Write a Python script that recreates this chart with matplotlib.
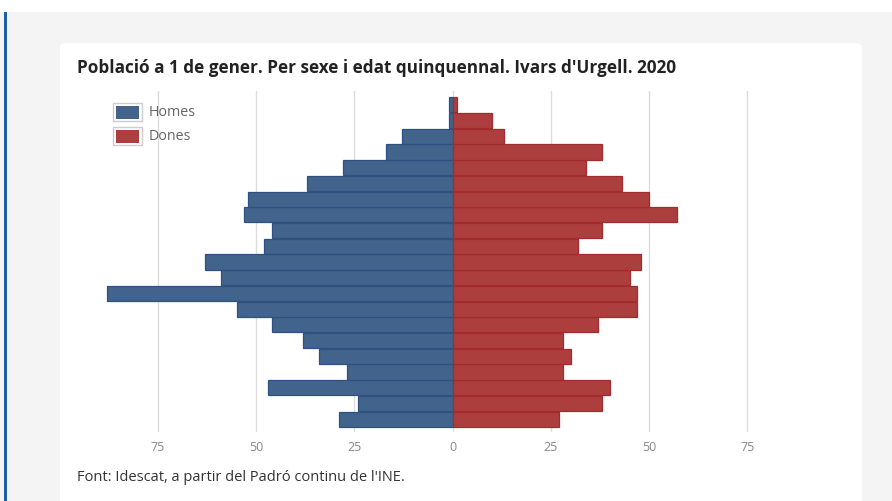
import numpy as np
import matplotlib
matplotlib.use("Agg")
import matplotlib.pyplot as plt
from matplotlib.patches import Rectangle, FancyBboxPatch

plt.rcParams['font.family'] = ['Open Sans', 'DejaVu Sans']

# grups d'edat, de baix (0-4) a dalt (100+)
edats = ['0-4', '5-9', '10-14', '15-19', '20-24', '25-29', '30-34', '35-39',
         '40-44', '45-49', '50-54', '55-59', '60-64', '65-69', '70-74',
         '75-79', '80-84', '85-89', '90-94', '95-99', '100+']
homes = [29, 24, 47, 27, 34, 38, 46, 55, 88, 59, 63, 48, 46, 53, 52, 37, 28, 17, 13, 1, 1]
dones = [27, 38, 40, 28, 30, 28, 37, 47, 47, 45, 48, 32, 38, 57, 50, 43, 34, 38, 13, 10, 1]
xticks = [-75, -50, -25, 0, 25, 50, 75]

W, H = 892, 502
fig = plt.figure(figsize=(W / 100, H / 100), dpi=100, facecolor='#f4f4f4')

def fx(px):
    return px / W

def fy(py):
    return 1 - py / H

# franja blanca de dalt, linia blava i targeta blanca
fig.patches.append(Rectangle((0, fy(13)), 1, 13 / H, transform=fig.transFigure,
                             facecolor='white', edgecolor='none', zorder=0))
fig.patches.append(Rectangle((fx(4), 0), 3 / W, fy(13), transform=fig.transFigure,
                             facecolor='#1f5ea6', edgecolor='none', zorder=1))
fig.patches.append(FancyBboxPatch((fx(60), -0.05), 802 / W, fy(44) + 0.05,
                                  boxstyle='round,pad=0,rounding_size=0.008',
                                  transform=fig.transFigure, facecolor='white',
                                  edgecolor='none', zorder=0))

fig.text(fx(77), fy(68), "Població a 1 de gener. Per sexe i edat quinquennal. Ivars d'Urgell. 2020",
         fontsize=12.3, fontweight='bold', color='#222222', va='center', ha='left')
fig.text(fx(77), fy(478), "Font: Idescat, a partir del Padró continu de l'INE.",
         fontsize=10.5, color='#333333', va='center', ha='left')

# eixos: 0 a x=452.7 px, 3.93 px per unitat
zero, ppu = 452.7, 3.93
ax_l, ax_r = 100, 800
ax_t, ax_b = 92, 433
ax = fig.add_axes([fx(ax_l), fy(ax_b), (ax_r - ax_l) / W, (ax_b - ax_t) / H])
ax.set_zorder(3)
ax.set_facecolor('none')
ax.set_xlim((ax_l - zero) / ppu, (ax_r - zero) / ppu)
row = 15.71
ax.set_ylim(-0.5 - 5 / row, 20.5 + 6 / row)

y = np.arange(len(edats))
ax.barh(y, -np.array(homes), height=0.96, color='#42638b', edgecolor='#2f5182',
        linewidth=0.9, zorder=3)
ax.barh(y, dones, height=0.96, color='#ac3f3e', edgecolor='#a32b2d',
        linewidth=0.9, zorder=3)

ax.set_xticks(xticks)
ax.set_xticklabels([str(abs(t)) for t in xticks])
ax.tick_params(axis='x', length=0, colors='#888888', labelsize=9, pad=6)
ax.set_yticks([])
ax.grid(axis='x', color='#dddddd', linewidth=1, zorder=0)
ax.set_axisbelow(True)
for s in ax.spines.values():
    s.set_visible(False)

# llegenda
for i, (nom, col) in enumerate([('Homes', '#42638b'), ('Dones', '#ac3f3e')]):
    yc = 113 + i * 24
    fig.patches.append(Rectangle((fx(113), fy(yc + 9)), 29 / W, 18 / H,
                                 transform=fig.transFigure, facecolor='white',
                                 edgecolor='#cccccc', linewidth=1, zorder=5))
    fig.patches.append(Rectangle((fx(116), fy(yc + 6.5)), 23 / W, 13 / H,
                                 transform=fig.transFigure, facecolor=col,
                                 edgecolor='none', zorder=6))
    fig.text(fx(149), fy(yc), nom, fontsize=10.3, color='#666666',
             va='center', ha='left', zorder=6)

fig.savefig('out.png', dpi=100, facecolor=fig.get_facecolor())
